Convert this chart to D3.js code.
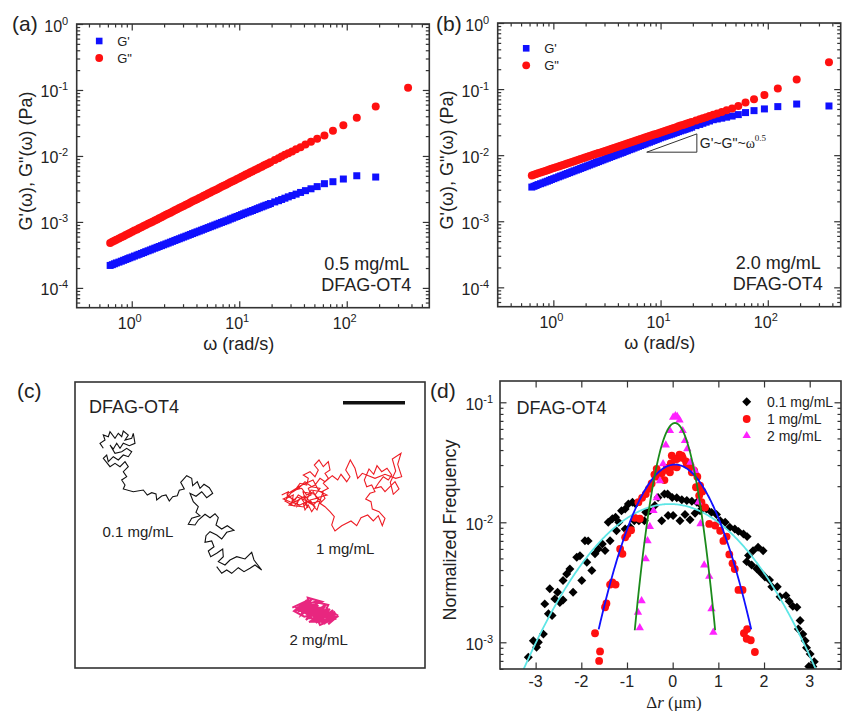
<!DOCTYPE html>
<html>
<head>
<meta charset="utf-8">
<script src="https://cdn.jsdelivr.net/npm/d3@7"></script>
<style>
  body { margin: 0; background: #fff; }
  svg { font-family: Arial, "Liberation Sans", sans-serif; }
</style>
</head>
<body>
<svg id="fig" width="842" height="711"></svg>
<script>
// ---- (a),(b) rheology: angular frequency (rad/s) and moduli (Pa)
var omega = [0.63, 0.66, 0.69, 0.72, 0.76, 0.80, 0.84, 0.88, 0.92, 0.96, 1.01, 1.06, 1.12, 1.17, 1.23, 1.29,
  1.35, 1.42, 1.49, 1.56, 1.64, 1.72, 1.80, 1.89, 1.98, 2.08, 2.18, 2.29, 2.40, 2.52, 2.64, 2.77, 2.90, 3.04,
  3.19, 3.35, 3.51, 3.68, 3.86, 4.05, 4.25, 4.46, 4.67, 4.90, 5.14, 5.39, 5.65, 5.93, 6.22, 6.52, 6.84, 7.17,
  7.52, 7.89, 8.28, 8.68, 9.10, 9.54, 10.0, 10.5, 11.0, 11.5, 12.1, 12.7, 13.3, 14.0, 14.7, 15.4, 16.2, 16.9,
  17.7, 18.6, 19.5, 21.4, 23.2, 24.8, 26.6, 28.6, 31.0, 33.8, 37.2, 41.3, 46.5, 53.1, 62.0, 74.4, 93.0, 124,
  186, 372];

var storage05 = [2.19e-4, 2.25e-4, 2.32e-4, 2.39e-4, 2.46e-4, 2.54e-4, 2.62e-4, 2.70e-4, 2.78e-4, 2.86e-4,
  2.94e-4, 3.04e-4, 3.14e-4, 3.23e-4, 3.33e-4, 3.43e-4, 3.54e-4, 3.65e-4, 3.76e-4, 3.88e-4, 4.00e-4, 4.12e-4,
  4.24e-4, 4.37e-4, 4.50e-4, 4.64e-4, 4.78e-4, 4.93e-4, 5.08e-4, 5.24e-4, 5.40e-4, 5.56e-4, 5.73e-4, 5.90e-4,
  6.08e-4, 6.27e-4, 6.46e-4, 6.66e-4, 6.86e-4, 7.07e-4, 7.28e-4, 7.50e-4, 7.73e-4, 7.97e-4, 8.21e-4, 8.46e-4,
  8.71e-4, 8.98e-4, 9.26e-4, 9.54e-4, 9.83e-4, 1.01e-3, 1.04e-3, 1.07e-3, 1.11e-3, 1.14e-3, 1.18e-3, 1.21e-3,
  1.25e-3, 1.29e-3, 1.33e-3, 1.37e-3, 1.41e-3, 1.45e-3, 1.49e-3, 1.54e-3, 1.59e-3, 1.64e-3, 1.69e-3, 1.74e-3,
  1.79e-3, 1.84e-3, 1.90e-3, 2.01e-3, 2.10e-3, 2.19e-3, 2.29e-3, 2.40e-3, 2.51e-3, 2.64e-3, 2.80e-3, 2.98e-3,
  3.18e-3, 3.43e-3, 3.80e-3, 4.07e-3, 4.47e-3, 5.01e-3, 4.79e-3, null];
var loss05 = [4.81e-4, 5.00e-4, 5.18e-4, 5.39e-4, 5.61e-4, 5.85e-4, 6.09e-4, 6.32e-4, 6.56e-4, 6.82e-4,
  7.08e-4, 7.39e-4, 7.71e-4, 8.01e-4, 8.32e-4, 8.64e-4, 8.98e-4, 9.35e-4, 9.74e-4, 1.01e-3, 1.05e-3, 1.09e-3,
  1.14e-3, 1.18e-3, 1.23e-3, 1.28e-3, 1.33e-3, 1.38e-3, 1.44e-3, 1.50e-3, 1.56e-3, 1.62e-3, 1.68e-3, 1.75e-3,
  1.82e-3, 1.89e-3, 1.97e-3, 2.05e-3, 2.13e-3, 2.21e-3, 2.30e-3, 2.39e-3, 2.49e-3, 2.59e-3, 2.69e-3, 2.80e-3,
  2.91e-3, 3.02e-3, 3.14e-3, 3.27e-3, 3.40e-3, 3.53e-3, 3.67e-3, 3.82e-3, 3.98e-3, 4.14e-3, 4.30e-3, 4.47e-3,
  4.64e-3, 4.83e-3, 5.02e-3, 5.22e-3, 5.43e-3, 5.64e-3, 5.86e-3, 6.11e-3, 6.36e-3, 6.62e-3, 6.89e-3, 7.15e-3,
  7.41e-3, 7.71e-3, 8.02e-3, 8.66e-3, 9.25e-3, 9.77e-3, 1.04e-2, 1.10e-2, 1.17e-2, 1.26e-2, 1.36e-2, 1.49e-2,
  1.64e-2, 1.82e-2, 2.04e-2, 2.40e-2, 2.92e-2, 3.80e-2, 5.62e-2, 1.08e-1];
var storage20 = [3.29e-3, 3.38e-3, 3.48e-3, 3.59e-3, 3.70e-3, 3.81e-3, 3.93e-3, 4.04e-3, 4.16e-3, 4.28e-3,
  4.41e-3, 4.55e-3, 4.70e-3, 4.84e-3, 4.98e-3, 5.13e-3, 5.28e-3, 5.44e-3, 5.61e-3, 5.78e-3, 5.95e-3, 6.12e-3,
  6.30e-3, 6.49e-3, 6.69e-3, 6.89e-3, 7.10e-3, 7.32e-3, 7.54e-3, 7.76e-3, 7.99e-3, 8.23e-3, 8.48e-3, 8.73e-3,
  8.99e-3, 9.26e-3, 9.54e-3, 9.82e-3, 1.01e-2, 1.04e-2, 1.07e-2, 1.10e-2, 1.14e-2, 1.17e-2, 1.21e-2, 1.24e-2,
  1.28e-2, 1.32e-2, 1.36e-2, 1.40e-2, 1.44e-2, 1.48e-2, 1.53e-2, 1.57e-2, 1.62e-2, 1.67e-2, 1.72e-2, 1.77e-2,
  1.83e-2, 1.88e-2, 1.93e-2, 1.98e-2, 2.03e-2, 2.08e-2, 2.14e-2, 2.20e-2, 2.27e-2, 2.33e-2, 2.39e-2, 2.45e-2,
  2.51e-2, 2.58e-2, 2.65e-2, 2.80e-2, 2.92e-2, 3.04e-2, 3.16e-2, 3.29e-2, 3.44e-2, 3.53e-2, 3.63e-2, 3.76e-2,
  3.91e-2, 4.11e-2, 4.41e-2, 4.72e-2, 5.01e-2, 5.43e-2, 5.94e-2, 5.55e-2];
var loss20 = [4.94e-3, 5.06e-3, 5.19e-3, 5.33e-3, 5.47e-3, 5.62e-3, 5.78e-3, 5.92e-3, 6.07e-3, 6.23e-3,
  6.39e-3, 6.57e-3, 6.75e-3, 6.92e-3, 7.10e-3, 7.28e-3, 7.47e-3, 7.67e-3, 7.88e-3, 8.09e-3, 8.30e-3, 8.51e-3,
  8.73e-3, 8.96e-3, 9.20e-3, 9.44e-3, 9.69e-3, 9.94e-3, 1.02e-2, 1.05e-2, 1.08e-2, 1.10e-2, 1.13e-2, 1.16e-2,
  1.19e-2, 1.22e-2, 1.25e-2, 1.28e-2, 1.32e-2, 1.35e-2, 1.39e-2, 1.42e-2, 1.46e-2, 1.50e-2, 1.54e-2, 1.58e-2,
  1.62e-2, 1.66e-2, 1.71e-2, 1.75e-2, 1.80e-2, 1.85e-2, 1.90e-2, 1.95e-2, 2.00e-2, 2.05e-2, 2.10e-2, 2.15e-2,
  2.21e-2, 2.27e-2, 2.33e-2, 2.39e-2, 2.45e-2, 2.51e-2, 2.58e-2, 2.65e-2, 2.73e-2, 2.80e-2, 2.87e-2, 2.94e-2,
  3.02e-2, 3.10e-2, 3.18e-2, 3.34e-2, 3.49e-2, 3.62e-2, 3.76e-2, 3.91e-2, 4.09e-2, 4.28e-2, 4.51e-2, 4.77e-2,
  5.09e-2, 5.55e-2, 6.24e-2, 7.00e-2, 8.13e-2, 1.02e-1, 1.40e-1, 2.55e-1];

// slope guide in (b): [omega, G] corners
var slopeTriangle = [[7.43, 0.0111], [21.8, 0.0111], [21.8, 0.021]];

// ---- (c) particle trajectories, [x, y] in um
var trajLow = [[2.83,6.63],[2.50,6.13],[3.00,5.80],[2.83,5.30],[3.33,5.47],[3.50,4.97],[4.00,5.63],[4.33,5.13],
  [4.67,5.47],[4.83,4.90],[5.33,5.30],[5.00,5.80],[5.67,5.63],[5.83,5.13],[6.00,6.13],[5.43,6.37],[4.83,6.13],
  [4.50,6.63],[4.17,6.13],[3.83,6.70],[3.50,6.30],[4.00,7.13],[4.67,6.97],[5.17,6.63],[5.67,6.97],[5.33,7.47],
  [4.83,7.30],[4.33,7.80],[3.83,7.47],[3.33,7.97],[3.17,7.30],[2.83,7.63],[3.50,8.47],[4.00,8.13],[4.50,8.47],
  [5.00,7.97],[5.33,8.47],[4.83,8.97],[5.17,9.47],[4.67,9.80],[5.00,10.30],[4.83,10.70],[5.83,10.97],[6.83,10.80],
  [7.23,11.30],[7.67,11.07],[8.10,11.20],[8.17,11.80],[8.67,11.40],[9.10,11.30],[9.43,11.90],[9.77,11.47],
  [10.23,11.37],[10.43,10.83],[10.93,10.70],[10.57,10.03],[11.17,9.37],[11.67,9.63],[11.77,10.37],[12.23,9.97],
  [12.50,10.63],[12.90,10.23],[13.43,10.57],[13.77,11.13],[13.17,11.57],[12.67,10.97],[12.10,11.43],[11.50,11.13],
  [11.83,11.97],[12.33,12.47],[12.10,13.03],[12.50,13.37],[11.67,13.63],[11.33,14.23],[12.00,14.30],[12.33,13.80],
  [13.00,13.23],[13.50,13.57],[14.00,13.17],[14.33,13.57],[14.10,14.30],[14.67,14.70],[15.23,14.37],[15.90,14.83],
  [15.17,15.03],[14.67,15.70],[14.17,15.30],[13.50,14.97],[13.10,15.37],[13.00,16.03],[13.67,15.90],[13.90,16.47],
  [13.33,16.90],[13.57,17.47],[14.17,17.13],[14.77,16.70],[14.83,17.47],[14.33,17.97],[15.00,18.30],[15.50,17.80],
  [16.17,17.47],[17.00,17.70],[17.67,17.03],[17.90,17.80],[18.67,18.80],[18.00,18.30],[17.50,18.63],[16.90,18.97],
  [16.33,18.57],[15.67,19.13],[15.17,18.80],[14.67,19.13],[14.17,18.47]];
var trajMid = [[20.67,11.30],[21.33,10.97],[21.17,11.63],[21.83,11.30],[21.67,12.13],[22.33,11.80],[22.17,12.47],
  [22.83,12.13],[23.00,12.80],[23.33,12.30],[23.67,12.97],[24.00,12.47],[23.50,11.80],[24.17,11.63],[23.83,10.97],
  [23.17,11.30],[22.67,10.63],[22.00,10.80],[22.50,10.13],[23.17,10.30],[23.33,9.63],[22.83,9.30],[23.50,8.97],
  [24.00,9.47],[24.33,8.80],[23.93,8.30],[24.40,7.80],[24.83,8.47],[25.33,7.97],[25.50,8.80],[25.00,9.13],
  [25.33,9.63],[24.83,10.13],[25.33,10.63],[24.67,10.97],[25.00,11.63],[24.50,12.13],[25.00,12.47],[25.50,12.97],
  [25.93,13.47],[25.67,14.30],[26.00,14.90],[26.67,14.37],[27.60,13.90],[28.17,14.37],[28.60,13.57],[29.27,13.30],
  [29.83,13.90],[30.33,13.37],[30.73,14.37],[31.00,13.63],[30.40,12.97],[29.73,12.70],[29.60,11.97],[29.07,11.70],
  [29.50,11.13],[30.00,10.97],[29.67,10.30],[29.17,10.47],[28.93,9.80],[29.40,8.70],[29.87,9.23],[30.20,8.37],
  [30.67,8.97],[31.20,8.63],[31.67,9.30],[31.33,9.80],[30.83,9.47],[30.40,10.03],[30.00,10.63],[30.60,10.47],
  [31.00,10.97],[31.50,10.47],[32.00,9.97],[32.40,10.70],[31.83,11.23],[31.53,10.03],[32.07,8.90],[31.73,7.70],
  [32.60,7.13],[32.27,8.23],[32.67,9.47],[32.07,9.63],[31.00,9.23],[30.00,9.63],[28.73,9.13],[28.27,9.63],
  [28.00,8.63],[27.53,7.80],[27.07,8.80],[27.50,9.47],[27.17,9.97],[26.60,9.23],[26.27,9.80],[25.73,9.37],
  [25.00,9.97],[24.50,9.63],[24.00,10.30],[23.33,10.63],[23.60,11.30],[22.93,11.63],[22.33,11.30],[22.00,11.80],
  [21.33,11.47],[20.83,11.70],[21.50,11.97],[22.50,12.30],[23.17,11.97],[23.83,12.30],[24.33,11.80],[24.00,11.30],
  [24.50,10.63],[23.67,10.47],[23.00,9.97],[22.40,10.60],[21.60,11.10],[21.00,11.90],[21.90,12.40],[22.60,11.60],
  [23.30,12.60],[22.80,11.00],[23.90,11.20],[24.60,11.90],[23.70,12.10],[22.20,11.50],[21.40,12.30],[22.90,12.50],
  [23.60,10.80],[24.80,11.00],[24.20,12.80],[23.00,11.40],[22.00,12.00],[21.20,11.20],[22.50,10.40],[23.80,9.80],
  [24.40,10.90],[25.20,11.30],[24.10,11.60]];
var trajHigh = [[21.73,22.57],[23.00,21.97],[22.33,22.97],[23.67,22.23],[22.83,23.13],[24.33,22.30],[23.33,23.37],
  [25.00,22.47],[23.83,23.63],[25.50,22.70],[24.17,23.97],[26.00,22.97],[24.67,24.13],[26.33,23.37],[25.33,24.23],
  [25.83,23.63],[24.00,23.47],[25.67,23.13],[23.50,22.80],[25.17,22.90],[22.67,22.70],[24.67,21.97],[23.27,21.57],
  [23.50,22.63],[22.00,22.80],[24.17,23.13],[23.17,23.63],[24.83,23.63],[24.33,22.80],[26.17,23.47],[25.00,23.97],
  [23.67,23.97],[24.50,22.57],[22.40,22.47],[24.00,21.97],[25.33,22.30],[24.83,23.30],[23.33,22.97],[22.17,22.70],
  [23.83,23.13],[25.67,23.80],[24.50,24.30],[24.17,23.63],[26.00,23.23],[23.00,22.30],[23.67,21.70],[23.40,22.13],
  [25.00,22.97],[22.93,23.47],[21.90,22.90],[23.20,21.80],[22.60,23.30],[24.20,22.10],[23.10,23.80],[25.10,22.20],
  [24.10,24.10],[25.80,22.80],[24.90,24.20],[26.10,23.10],[25.40,23.90],[23.90,22.40],[22.50,22.50],[24.40,23.40],
  [23.40,24.00],[25.60,23.40],[24.70,22.60],[22.80,22.90],[24.00,23.90],[25.90,23.70],[23.60,22.30],[22.20,22.60],
  [24.60,23.80],[25.30,22.60]];

// ---- (d) displacement distributions: [dr (um), normalized frequency]
var dist01 = [[-3.16,7.5e-4],[-3.05,1.03e-3],[-2.98,9.1e-4],[-2.94,1.0e-3],[-2.83,1.17e-3],[-2.80,2.09e-3],
  [-2.72,1.73e-3],[-2.69,2.79e-3],[-2.64,1.67e-3],[-2.58,2.30e-3],[-2.52,2.61e-3],[-2.47,2.15e-3],[-2.40,2.25e-3],
  [-2.40,3.27e-3],[-2.32,3.71e-3],[-2.25,4.08e-3],[-2.18,2.61e-3],[-2.10,5.11e-3],[-2.03,5.27e-3],[-1.99,3.27e-3],
  [-1.92,7.03e-3],[-1.88,4.65e-3],[-1.85,7.0e-3],[-1.77,3.96e-3],[-1.70,5.46e-3],[-1.63,6.0e-3],[-1.54,6.6e-3],
  [-1.48,5.81e-3],[-1.41,1.0e-2],[-1.37,7.03e-3],[-1.32,1.07e-2],[-1.25,1.10e-2],[-1.23,8.5e-3],[-1.18,1.0e-2],
  [-1.12,1.25e-2],[-1.04,1.29e-2],[-1.04,8.8e-3],[-0.97,1.42e-2],[-0.93,9.1e-3],[-0.88,1.47e-2],[-0.81,1.42e-2],
  [-0.84,1.03e-2],[-0.74,1.03e-2],[-0.62,1.03e-2],[-0.59,1.21e-2],[-0.50,1.25e-2],[-0.39,1.38e-2],[-0.32,1.61e-2],
  [-0.24,1.03e-2],[-0.18,1.72e-2],[-0.11,1.72e-2],[-0.10,1.14e-2],[-0.01,1.61e-2],[0.01,1.14e-2],[0.09,1.60e-2],
  [0.20,1.54e-2],[0.31,1.52e-2],[0.42,1.50e-2],[0.53,1.47e-2],[0.63,1.38e-2],[0.16,1.03e-2],[0.27,1.16e-2],
  [0.38,1.05e-2],[0.49,1.19e-2],[0.60,1.25e-2],[0.74,1.29e-2],[0.85,1.21e-2],[0.96,1.16e-2],[1.04,1.03e-2],
  [1.15,1.0e-2],[1.25,9.1e-3],[1.36,8.8e-3],[1.44,8.4e-3],[1.55,8.0e-3],[1.63,7.6e-3],[1.66,5.3e-3],[1.76,5.8e-3],
  [1.87,6.2e-3],[1.98,5.8e-3],[1.62,4.7e-3],[1.73,4.4e-3],[1.84,4.1e-3],[1.93,3.8e-3],[2.02,3.5e-3],[2.12,3.3e-3],
  [2.17,2.9e-3],[2.29,2.9e-3],[2.35,2.4e-3],[2.48,2.45e-3],[2.55,2.2e-3],[2.63,2.0e-3],[2.72,1.96e-3],[2.79,1.52e-3],
  [2.75,1.29e-3],[2.85,1.17e-3],[2.90,1.03e-3],[2.93,9.0e-4],[3.01,8.0e-4],[3.07,6.3e-4],[2.98,6.3e-4],[3.10,6.9e-4]];
var dist1 = [[-1.70,1.19e-3],[-1.59,8.4e-4],[-1.61,7.0e-4],[-1.48,1.96e-3],[-1.45,2.11e-3],[-1.37,3.03e-3],
  [-1.32,3.16e-3],[-1.25,3.03e-3],[-1.15,6.0e-3],[-1.10,5.46e-3],[-1.04,7.5e-3],[-0.99,8.0e-3],[-0.91,8.6e-3],
  [-0.83,1.09e-2],[-0.72,1.07e-2],[-0.75,1.47e-2],[-0.67,1.60e-2],[-0.59,1.72e-2],[-0.52,1.90e-2],[-0.46,2.11e-2],
  [-0.40,2.50e-2],[-0.35,2.79e-2],[-0.28,2.53e-2],[-0.18,2.25e-2],[-0.13,2.84e-2],[-0.06,2.61e-2],[-0.01,2.91e-2],
  [-0.37,2.40e-2],[-0.24,2.56e-2],[-0.13,2.73e-2],[-0.04,3.10e-2],[0.05,3.37e-2],[0.09,2.87e-2],[0.15,3.66e-2],
  [0.22,3.44e-2],[0.29,3.22e-2],[0.39,2.96e-2],[0.47,2.70e-2],[0.54,2.40e-2],[0.60,2.02e-2],[0.65,1.81e-2],
  [-0.02,3.60e-2],[0.09,3.37e-2],[0.20,3.60e-2],[0.31,3.03e-2],[0.42,2.61e-2],[0.51,1.96e-2],[0.58,1.67e-2],
  [0.63,1.47e-2],[0.71,1.33e-2],[0.80,9.7e-3],[0.93,9.4e-3],[1.04,8.5e-3],[1.11,7.0e-3],[1.18,7.6e-3],[1.24,5.4e-3],
  [1.31,4.55e-3],[1.36,4.08e-3],[1.44,2.73e-3],[1.53,2.73e-3],[1.56,1.19e-3],[1.63,1.29e-3],[1.62,1.07e-3],
  [1.71,1.04e-3],[1.80,8.3e-4]];
var dist2 = [[-0.72,1.32e-3],[-0.76,1.78e-3],[-0.68,2.22e-3],[-0.59,4.95e-3],[-0.55,7.0e-3],[-0.50,9.2e-3],
  [-0.42,1.25e-2],[-0.35,1.6e-2],[-0.28,2.22e-2],[-0.21,3.07e-2],[-0.15,4.4e-2],[-0.06,5.8e-2],[0.01,7.5e-2],
  [0.06,7.7e-2],[0.10,7.6e-2],[0.15,7.1e-2],[0.22,5.8e-2],[0.27,4.8e-2],[0.32,4.1e-2],[0.39,3.16e-2],[0.49,2.7e-2],
  [0.56,1.47e-2],[0.61,9.7e-3],[0.69,4.4e-3],[0.80,3.55e-3],[0.85,1.9e-3],[0.89,1.21e-3]];

// Gaussian fits: [peak, center, sigma, from, to]
var fit01 = [0.0142, -0.065, 1.27, -3.4, 3.3];
var fit1 = [0.0303, 0.05, 0.664, -1.62, 1.72];
var fit2 = [0.0673, 0.05, 0.312, -0.83, 0.93];

var concLabels = ['0.1 mg/mL', '1 mg/mL', '2 mg/mL'];

// ------------------------------------------------------------------
var svg = d3.select('#fig');
var ink = '#222';
var frameInk = '#333';

function logTickSets(domain) {
  var lo = Math.floor(Math.log10(domain[0])), hi = Math.ceil(Math.log10(domain[1]));
  var major = [], minor = [];
  for (let e = lo; e <= hi; e++) {
    for (let m = 1; m < 10; m++) {
      let v = m * Math.pow(10, e);
      if (v < domain[0] * 0.9999 || v > domain[1] * 1.0001) continue;
      (m === 1 ? major : minor).push(v);
    }
  }
  return { major: major, minor: minor };
}

// inward ticks on all four sides
function drawTicks(g, x, y, xVals, yVals, size) {
  var xr = x.range(), yr = y.range();
  var sides = [
    [d3.axisBottom(x), xVals, 'translate(0,' + yr[0] + ')'],
    [d3.axisTop(x), xVals, 'translate(0,' + yr[1] + ')'],
    [d3.axisLeft(y), yVals, 'translate(' + xr[0] + ',0)'],
    [d3.axisRight(y), yVals, 'translate(' + xr[1] + ',0)']
  ];
  sides.forEach(function (s) {
    g.append('g')
      .attr('transform', s[2])
      .call(s[0].tickValues(s[1]).tickSize(-size).tickFormat(''))
      .call(function (a) { a.select('.domain').remove(); })
      .selectAll('line')
      .attr('stroke', frameInk)
      .attr('stroke-width', 1.2);
  });
}

function drawFrame(g, x, y) {
  var xr = x.range(), yr = y.range();
  g.append('rect')
    .attr('x', xr[0]).attr('y', yr[1])
    .attr('width', xr[1] - xr[0]).attr('height', yr[0] - yr[1])
    .attr('fill', 'none').attr('stroke', frameInk).attr('stroke-width', 1.6);
}

function powLabel(text, exp) {
  text.append('tspan').text('10');
  text.append('tspan').attr('dy', -7).attr('font-size', 11).text(exp);
}

function panelLetter(x, y, s) {
  svg.append('text').attr('x', x).attr('y', y).attr('font-size', 21).attr('fill', ink).text(s);
}

// ---- rheology panels
function rheoPanel(box, xDomain, yDomain, gStore, gLoss, conc) {
  var g = svg.append('g');
  var x = d3.scaleLog().domain(xDomain).range([box.left, box.right]);
  var y = d3.scaleLog().domain(yDomain).range([box.bottom, box.top]);
  var xt = logTickSets(xDomain), yt = logTickSets(yDomain);

  drawTicks(g, x, y, xt.minor, yt.minor, 3.5);
  drawTicks(g, x, y, xt.major, yt.major, 6.5);
  drawFrame(g, x, y);

  xt.major.forEach(function (v) {
    var t = g.append('text')
      .attr('x', x(v) - 2).attr('y', box.bottom + 21)
      .attr('text-anchor', 'middle').attr('font-size', 16).attr('fill', ink);
    powLabel(t, Math.round(Math.log10(v)));
  });
  yt.major.forEach(function (v) {
    var t = g.append('text')
      .attr('x', box.left - 8.5).attr('y', y(v) + 7.5)
      .attr('text-anchor', 'end').attr('font-size', 16).attr('fill', ink);
    var e = Math.round(Math.log10(v));
    powLabel(t, e < 0 ? '-' + (-e) : String(e));
  });

  g.append('text')
    .attr('x', box.left + 162).attr('y', box.bottom + 42)
    .attr('text-anchor', 'middle').attr('font-size', 18).attr('fill', ink)
    .text('\u03c9 (rad/s)');
  g.append('text')
    .attr('transform', 'translate(' + (box.left - 45) + ',' + (box.top + 137) + ') rotate(-90)')
    .attr('text-anchor', 'middle').attr('font-size', 18).attr('fill', ink)
    .text('G\'(\u03c9), G"(\u03c9) (Pa)');

  var store = omega.map(function (w, i) { return [w, gStore[i]]; }).filter(function (d) { return d[1] != null; });
  var loss = omega.map(function (w, i) { return [w, gLoss[i]]; }).filter(function (d) { return d[1] != null; });

  var sq = 7;
  g.append('g').selectAll('rect').data(store).join('rect')
    .attr('x', function (d) { return x(d[0]) - sq / 2; })
    .attr('y', function (d) { return y(d[1]) - sq / 2; })
    .attr('width', sq).attr('height', sq)
    .attr('fill', '#1010ff');
  g.append('g').selectAll('circle').data(loss).join('circle')
    .attr('cx', function (d) { return x(d[0]); })
    .attr('cy', function (d) { return y(d[1]); })
    .attr('r', 4)
    .attr('fill', '#ff1010');

  // legend
  var lx = box.left + box.legDx, ly = box.top + box.legDy;
  g.append('rect').attr('x', lx - 3.3).attr('y', ly - 3.3).attr('width', 6.6).attr('height', 6.6).attr('fill', '#1010ff');
  g.append('circle').attr('cx', lx).attr('cy', ly + 17).attr('r', 3.9).attr('fill', '#ff1010');
  g.append('text').attr('x', lx + 18).attr('y', ly + 4.5).attr('font-size', 13).attr('fill', ink).text('G\'');
  g.append('text').attr('x', lx + 18).attr('y', ly + 21.5).attr('font-size', 13).attr('fill', ink).text('G"');

  g.append('text').attr('x', box.right - 20).attr('y', box.bottom - 38)
    .attr('text-anchor', 'end').attr('font-size', 18).attr('fill', ink).text(conc);
  g.append('text').attr('x', box.right - 18).attr('y', box.bottom - 17)
    .attr('text-anchor', 'end').attr('font-size', 18).attr('fill', ink).text('DFAG-OT4');

  return { g: g, x: x, y: y };
}

var boxA = { left: 76.7, right: 429.3, top: 24, bottom: 307.7, legDx: 22.5, legDy: 17 };
var boxB = { left: 497.7, right: 840.7, top: 23, bottom: 306.7, legDx: 28.5, legDy: 25.3 };

rheoPanel(boxA, [Math.pow(10, -0.512), Math.pow(10, 2.768)], [Math.pow(10, -4.3), 1], storage05, loss05, '0.5 mg/mL');
var pb = rheoPanel(boxB, [Math.pow(10, -0.519), Math.pow(10, 2.68)], [Math.pow(10, -4.293), 1], storage20, loss20, '2.0 mg/mL');

// slope guide
pb.g.append('path')
  .attr('d', d3.line().x(function (d) { return pb.x(d[0]); }).y(function (d) { return pb.y(d[1]); })(slopeTriangle) + 'Z')
  .attr('fill', 'none').attr('stroke', '#333').attr('stroke-width', 1);
var slopeText = pb.g.append('text')
  .attr('x', pb.x(slopeTriangle[2][0]) + 3).attr('y', pb.y(slopeTriangle[0][1]) - 4.5)
  .attr('font-size', 14).attr('fill', ink);
slopeText.append('tspan').text('G\'~G"~');
slopeText.append('tspan').attr('font-family', '"Liberation Serif", "Times New Roman", serif').text('\u03c9');
slopeText.append('tspan').attr('dy', -7).attr('font-size', 9)
  .attr('font-family', '"Liberation Serif", "Times New Roman", serif').text('0.5');

panelLetter(12, 31, '(a)');
panelLetter(436, 31, '(b)');

// ---- (c) trajectories
var gc = svg.append('g');
var cx = d3.scaleLinear().domain([0, 35]).range([75, 425]);
var cy = d3.scaleLinear().domain([0, 28.6]).range([382, 668]);
gc.append('rect').attr('x', cx(0)).attr('y', cy(0)).attr('width', cx(35) - cx(0)).attr('height', cy(28.6) - cy(0))
  .attr('fill', 'none').attr('stroke', frameInk).attr('stroke-width', 1.6);
var trajLine = d3.line().x(function (d) { return cx(d[0]); }).y(function (d) { return cy(d[1]); });
[[trajLow, '#111', 1.1], [trajMid, '#ee1c24', 1.1], [trajHigh, '#e8267f', 2]].forEach(function (t) {
  gc.append('path').attr('d', trajLine(t[0])).attr('fill', 'none')
    .attr('stroke', t[1]).attr('stroke-width', t[2]).attr('stroke-linejoin', 'miter');
});
gc.append('line').attr('x1', cx(26.8)).attr('x2', cx(33)).attr('y1', cy(2.07)).attr('y2', cy(2.07))
  .attr('stroke', '#111').attr('stroke-width', 3.6);
gc.append('text').attr('x', 89).attr('y', 413).attr('font-size', 18).attr('fill', ink).text('DFAG-OT4');
gc.append('text').attr('x', 102.5).attr('y', 537).attr('font-size', 15).attr('fill', ink).text(concLabels[0]);
gc.append('text').attr('x', 316).attr('y', 554).attr('font-size', 15).attr('fill', ink).text(concLabels[1]);
gc.append('text').attr('x', 289.5).attr('y', 645).attr('font-size', 15).attr('fill', ink).text(concLabels[2]);
panelLetter(17, 398, '(c)');

// ---- (d) displacement histograms
var boxD = { left: 500, right: 841, top: 381, bottom: 669 };
var gd = svg.append('g');
var dx = d3.scaleLinear().domain([-3.78, 3.685]).range([boxD.left, boxD.right]);
var dyDomain = [Math.pow(10, -3.2225), Math.pow(10, -0.8225)];
var dy = d3.scaleLog().domain(dyDomain).range([boxD.bottom, boxD.top]);
var dyt = logTickSets(dyDomain);
var dxMajor = [-3, -2, -1, 0, 1, 2, 3];

drawTicks(gd, dx, dy, [], dyt.minor, 3.5);
drawTicks(gd, dx, dy, dxMajor, dyt.major, 6.5);

svg.append('clipPath').attr('id', 'clipD').append('rect')
  .attr('x', boxD.left).attr('y', boxD.top).attr('width', boxD.right - boxD.left).attr('height', boxD.bottom - boxD.top);
var plotD = gd.append('g').attr('clip-path', 'url(#clipD)');

var diamond = d3.symbol().type(d3.symbolSquare).size(40);
var tri = d3.symbol().type(d3.symbolTriangle).size(30);

plotD.append('g').selectAll('path').data(dist01).join('path')
  .attr('d', diamond)
  .attr('transform', function (d) { return 'translate(' + dx(d[0]) + ',' + dy(d[1]) + ') rotate(45)'; })
  .attr('fill', '#000');
plotD.append('g').selectAll('circle').data(dist1).join('circle')
  .attr('cx', function (d) { return dx(d[0]); }).attr('cy', function (d) { return dy(d[1]); })
  .attr('r', 3.9).attr('fill', '#ff1010');
plotD.append('g').selectAll('path').data(dist2).join('path')
  .attr('d', tri)
  .attr('transform', function (d) { return 'translate(' + dx(d[0]) + ',' + dy(d[1]) + ')'; })
  .attr('fill', '#ff22ff');

function gaussPath(p) {
  var pts = d3.range(p[3], p[4] + 1e-9, 0.02).map(function (r) {
    return [r, p[0] * Math.exp(-Math.pow(r - p[1], 2) / (2 * p[2] * p[2]))];
  });
  return d3.line().x(function (d) { return dx(d[0]); }).y(function (d) { return dy(d[1]); })(pts);
}
[[fit01, '#5ee6e6'], [fit1, '#1010ff'], [fit2, '#1b8a1b']].forEach(function (f) {
  plotD.append('path').attr('d', gaussPath(f[0])).attr('fill', 'none')
    .attr('stroke', f[1]).attr('stroke-width', 1.8);
});

drawFrame(gd, dx, dy);

dxMajor.forEach(function (v) {
  gd.append('text').attr('x', dx(v)).attr('y', boxD.bottom + 18)
    .attr('text-anchor', 'middle').attr('font-size', 16).attr('fill', ink).text(v);
});
dyt.major.forEach(function (v) {
  var t = gd.append('text').attr('x', boxD.left - 7).attr('y', dy(v) + 7.5)
    .attr('text-anchor', 'end').attr('font-size', 16).attr('fill', ink);
  powLabel(t, '-' + Math.round(-Math.log10(v)));
});

var xTitle = gd.append('text').attr('x', 674).attr('y', 707.5).attr('text-anchor', 'middle')
  .attr('font-size', 17).attr('fill', ink)
  .attr('font-family', '"Liberation Serif", "Times New Roman", serif');
xTitle.append('tspan').text('\u0394');
xTitle.append('tspan').attr('font-style', 'italic').text('r');
xTitle.append('tspan').text(' (\u03bcm)');
gd.append('text')
  .attr('transform', 'translate(' + 456 + ',' + 530 + ') rotate(-90)')
  .attr('text-anchor', 'middle').attr('font-size', 18).attr('fill', ink)
  .text('Normalized Frequency');
gd.append('text').attr('x', 516.5).attr('y', 413.5).attr('font-size', 18).attr('fill', ink).text('DFAG-OT4');

// legend (d)
var lgx = 746.7, lgy = [401.7, 419, 435.7];
gd.append('path').attr('d', diamond).attr('transform', 'translate(' + lgx + ',' + lgy[0] + ') rotate(45)').attr('fill', '#000');
gd.append('circle').attr('cx', lgx).attr('cy', lgy[1]).attr('r', 3.9).attr('fill', '#ff1010');
gd.append('path').attr('d', tri).attr('transform', 'translate(' + lgx + ',' + lgy[2] + ')').attr('fill', '#ff22ff');
concLabels.forEach(function (s, i) {
  gd.append('text').attr('x', 767).attr('y', lgy[i] + 5).attr('font-size', 14).attr('fill', ink).text(s);
});
panelLetter(430, 398, '(d)');
</script>
</body>
</html>
